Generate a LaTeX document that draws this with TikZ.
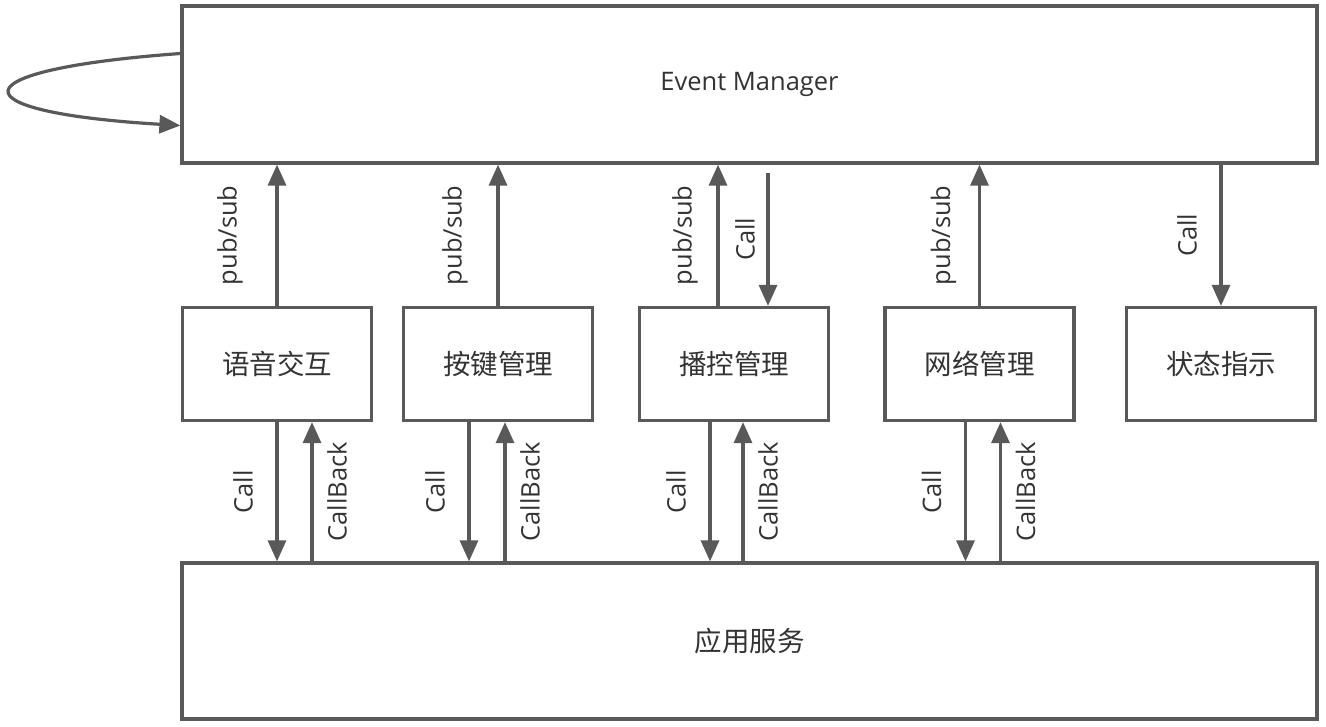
\documentclass[tikz,border=0pt]{standalone}
\usepackage{fontspec}
\setmainfont{Open Sans}
\newfontfamily\cjk{Noto Sans CJK SC}
\usetikzlibrary{arrows.meta}
\definecolor{edgegray}{HTML}{595959}
\definecolor{txtgray}{HTML}{333333}

\begin{document}
\begin{tikzpicture}[
      x=1pt, y=-1pt,
      box/.style={draw=edgegray, line width=3.2pt, minimum width=189pt,
                  minimum height=113pt, inner sep=0pt, text=txtgray,
                  font=\cjk\fontsize{27.5}{32}\selectfont},
      wide/.style={box, minimum width=1135pt, minimum height=157pt},
      conn/.style={draw=edgegray, line width=3.2pt,
                   -{Triangle[length=21pt, width=18pt]}},
      lab/.style={text=txtgray, inner sep=0pt,
                  font=\fontsize{25.5}{30}\selectfont}]

    % Page = 1326 x 726 px, 1 px = 1pt, y grows downwards
    \useasboundingbox (0,0) rectangle (1326,726);

    % Event bus (top) and service layer (bottom)
    \node[wide, font=\fontsize{25.5}{30}\selectfont] (em) at (749.5,84.5) {Event Manager};
    \node[wide, minimum height=156pt] (app) at (749.5,641) {应用服务};

    % Modules
    \node[box] (voice)  at (277,364)    {语音交互};
    \node[box] (key)    at (498,364)    {按键管理};
    \node[box] (play)   at (734,364)    {播控管理};
    \node[box] (net)    at (979.5,364)  {网络管理};
    \node[box] (status) at (1221,364)   {状态指示};

    % Self loop on the bus
    \draw[conn] ([yshift=31]em.west) .. controls (-46,70) and (-46,112) .. ([yshift=-41]em.west);

    % Modules <-> Event Manager
    \draw[conn] (voice.north) -- (voice.north |- em.south)
        node[lab, midway, xshift=-47, rotate=90] {pub/sub};
    \draw[conn] (key.north) -- (key.north |- em.south)
        node[lab, midway, xshift=-43, rotate=90] {pub/sub};
    \draw[conn] ([xshift=-16]play.north) -- ([xshift=-16]play.north |- em.south)
        node[lab, midway, xshift=-33, rotate=90] {pub/sub};
    \draw[conn] ([xshift=34, yshift=-8]play.north |- em.south) -- ([xshift=34]play.north)
        node[lab, midway, xshift=-23, rotate=90] {Call};
    \draw[conn] (net.north) -- (net.north |- em.south)
        node[lab, midway, xshift=-36, rotate=90] {pub/sub};
    \draw[conn] (status.north |- em.south) -- (status.north)
        node[lab, midway, xshift=-34, rotate=90] {Call};

    % Modules <-> 应用服务 (call offset / callback offset)
    \foreach \b/\c/\k in {voice/0/35, key/-29/7, play/-24/9, net/-14/21} {
        \draw[conn] ([xshift=\c]\b.south) -- ([xshift=\c]\b.south |- app.north)
            node[lab, midway, xshift=-34, rotate=90] {Call};
        \draw[conn] ([xshift=\k]\b.south |- app.north) -- ([xshift=\k]\b.south)
            node[lab, midway, xshift=25, rotate=90] {CallBack};
    }

\end{tikzpicture}
\end{document}
